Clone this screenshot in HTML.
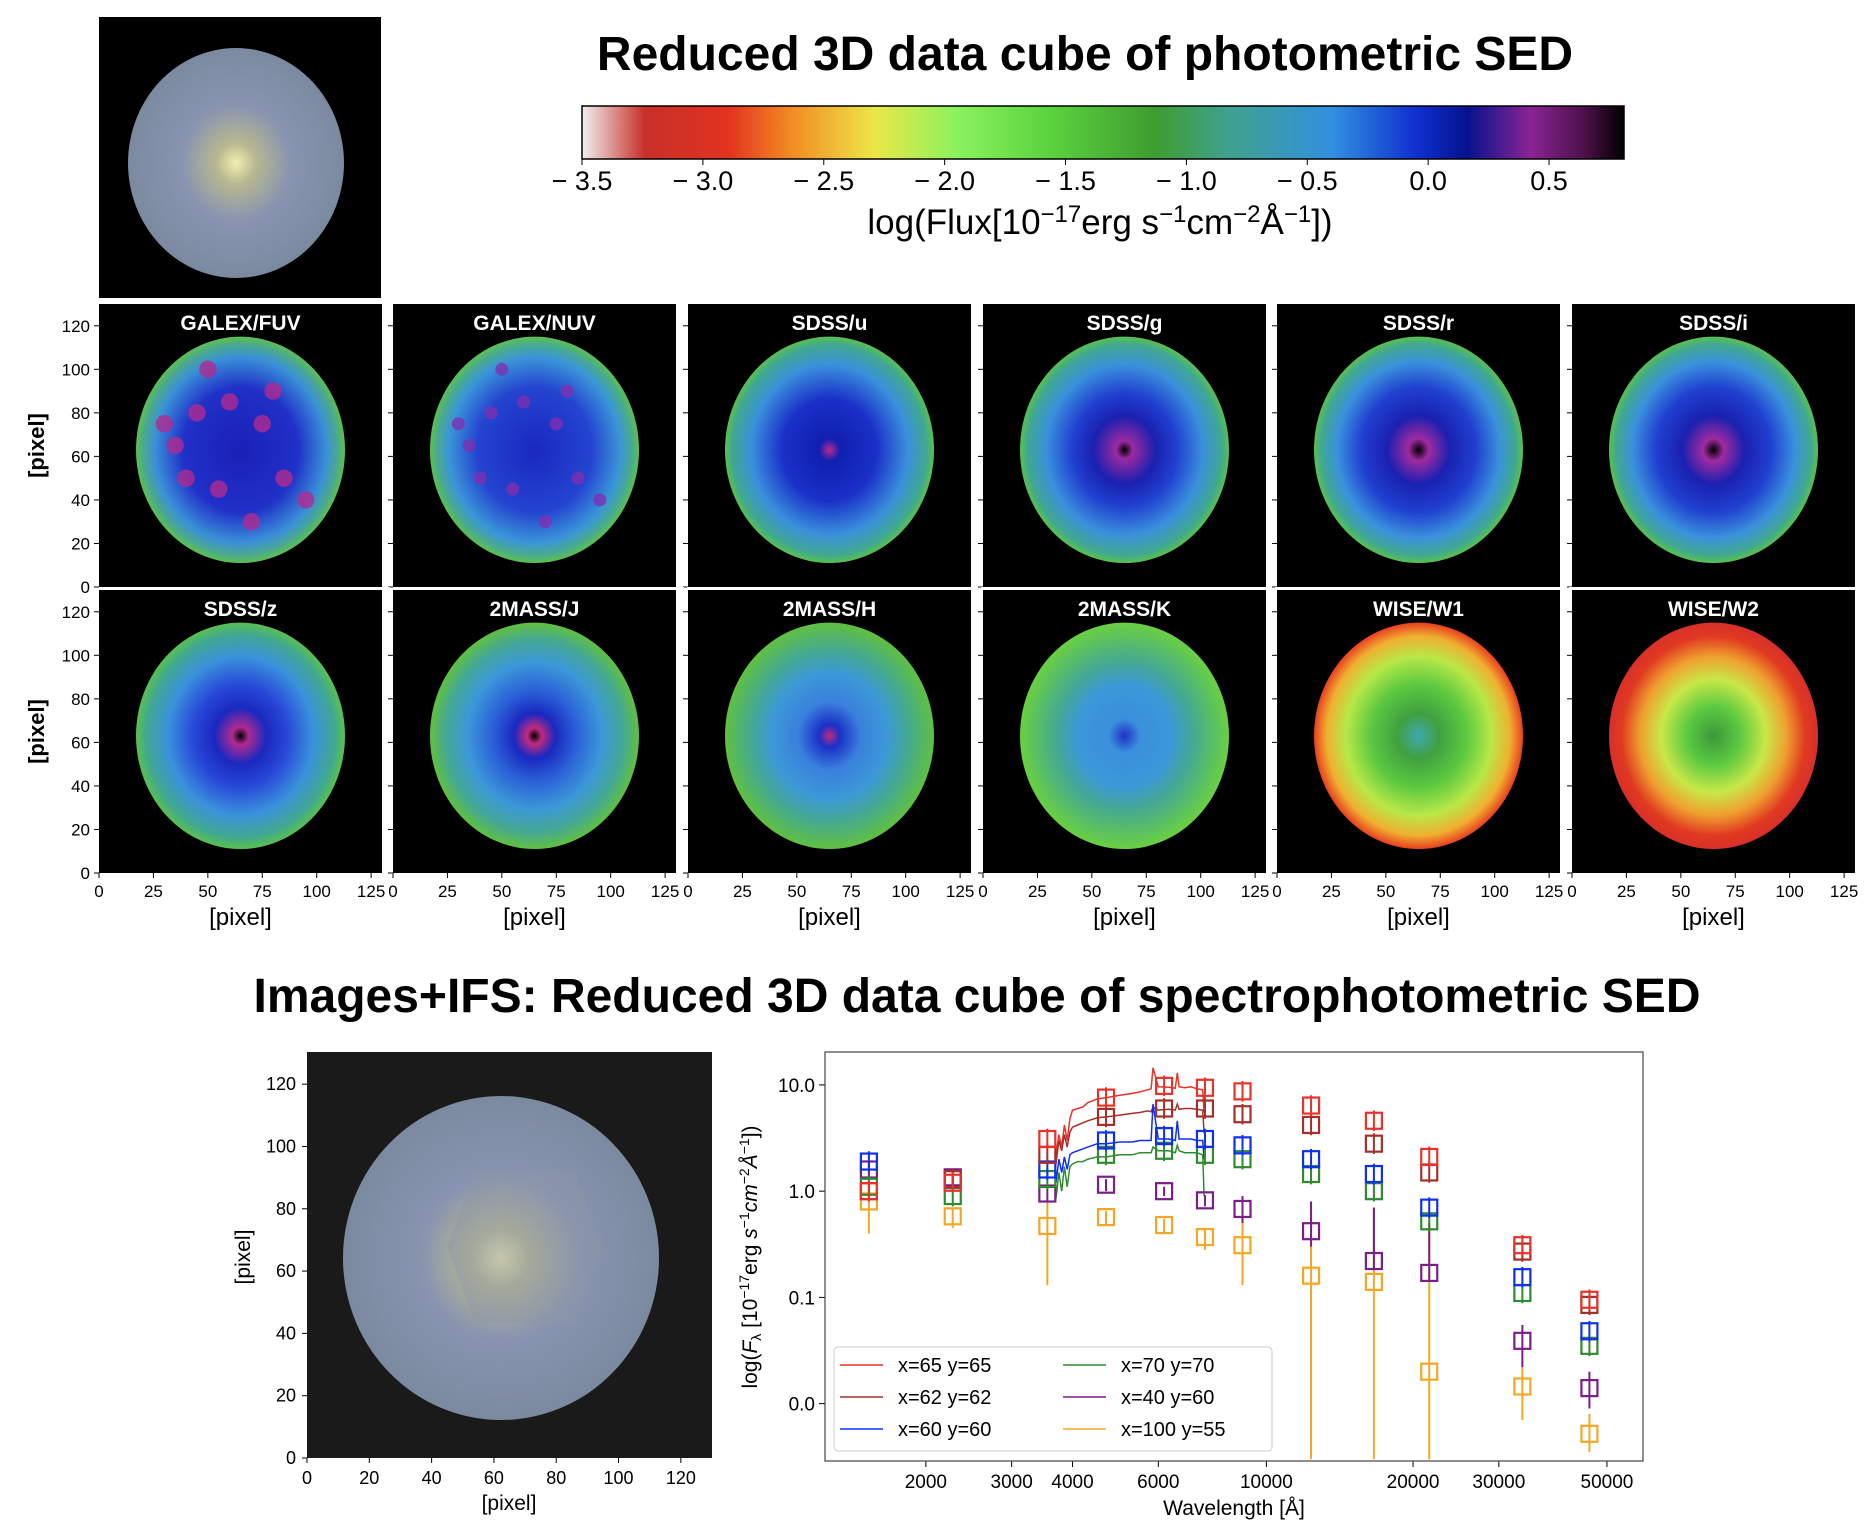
<!DOCTYPE html>
<html><head><meta charset="utf-8">
<style>
html,body{margin:0;padding:0;background:#fff;}
svg{display:block;font-family:"Liberation Sans",sans-serif;}
</style></head>
<body>
<svg id="fig" width="1876" height="1524" viewBox="0 0 1876 1524" xmlns="http://www.w3.org/2000/svg">
<defs>
<linearGradient id="cbar" x1="0" x2="1" y1="0" y2="0">
<stop offset="0" stop-color="#f0f0f0"/><stop offset="0.06" stop-color="#c8302a"/><stop offset="0.14" stop-color="#e2321f"/>
<stop offset="0.2" stop-color="#f28a22"/><stop offset="0.28" stop-color="#ece648"/><stop offset="0.36" stop-color="#8af25e"/>
<stop offset="0.45" stop-color="#5ad23e"/><stop offset="0.55" stop-color="#3f9c30"/><stop offset="0.62" stop-color="#3fa28e"/>
<stop offset="0.72" stop-color="#3290e0"/><stop offset="0.8" stop-color="#1030d0"/><stop offset="0.85" stop-color="#06128e"/>
<stop offset="0.91" stop-color="#8a2494"/><stop offset="0.96" stop-color="#50104e"/><stop offset="1" stop-color="#000"/>
</linearGradient>
<radialGradient id="rgbg"><stop offset="0" stop-color="#f2eeb0"/><stop offset="0.18" stop-color="#b8b890"/><stop offset="0.5" stop-color="#8894b0"/><stop offset="1" stop-color="#7c8aa0"/></radialGradient>
</defs>
<g id="root"></g>
</svg>
<script>
const NS='http://www.w3.org/2000/svg';
const root=document.getElementById('root');
function mk(tag,attrs,parent){const e=document.createElementNS(NS,tag);for(const k in attrs)e.setAttribute(k,attrs[k]);(parent||root).appendChild(e);return e;}
function tx(str,x,y,size,opts,parent){const o=opts||{};const e=mk('text',{x:x,y:y,'font-size':size,'text-anchor':o.anchor||'middle','font-weight':o.weight||'normal',fill:o.fill||'#000'},parent);if(o.rot)e.setAttribute('transform','rotate(-90 '+x+' '+y+')');e.textContent=str;return e;}

// ===== Top titles =====
let t=tx('Reduced 3D data cube of photometric SED',1085,70,48,{weight:'bold'});



let g=mk('g',{});


mk('rect',{x:99,y:17,width:282,height:281,fill:'#000'},g);
mk('ellipse',{cx:236,cy:163,rx:108,ry:115,fill:'url(#rgbg)'},g);

const cbTicks=[-3.5,-3.0,-2.5,-2.0,-1.5,-1.0,-0.5,0.0,0.5];
const cbMin=-3.5,cbMax=0.81,cbX0=582,cbX1=1624;
function cbx(v){return cbX0+(v-cbMin)/(cbMax-cbMin)*(cbX1-cbX0);}
g=mk('g',{});


mk('rect',{x:cbX0,y:106,width:cbX1-cbX0,height:53,fill:'url(#cbar)',stroke:'#000','stroke-width':1.5},g);
cbTicks.forEach(v=>{const x=cbx(v);mk('line',{x1:x,x2:x,y1:159,y2:165,stroke:'#000'},g);
 const s=(v<0?'\u2212 ':'')+Math.abs(v).toFixed(1);const l=tx(s,x,190,27,{},g);
 
 });
t=mk('text',{x:1100,y:234,'font-size':35,'text-anchor':'middle'});
t.innerHTML='log(Flux[10<tspan dy="-12" font-size="24">\u221217</tspan><tspan dy="12">erg s</tspan><tspan dy="-12" font-size="24">\u22121</tspan><tspan dy="12">cm</tspan><tspan dy="-12" font-size="24">\u22122</tspan><tspan dy="12">\u00c5</tspan><tspan dy="-12" font-size="24">\u22121</tspan><tspan dy="12">])</tspan>';



// ===== Band panels =====
const bands=['GALEX/FUV','GALEX/NUV','SDSS/u','SDSS/g','SDSS/r','SDSS/i','SDSS/z','2MASS/J','2MASS/H','2MASS/K','WISE/W1','WISE/W2'];
const bandStops=[
 [['#1a20b8',0],['#2030c8',0.55],['#3a90d8',0.82],['#4aa890',0.93],['#5cc050',1]],
 [['#1a28c0',0],['#2444d0',0.55],['#3a95d8',0.82],['#48aa90',0.93],['#5cc050',1]],
 [['#c02890',0],['#1020b0',0.1],['#1a30c8',0.45],['#3a90dc',0.75],['#40a890',0.93],['#5ac050',1]],
 [['#000',0],['#9a2aa0',0.08],['#1a20b0',0.3],['#2040d0',0.5],['#3a90dc',0.75],['#40a890',0.93],['#5ac050',1]],
 [['#000',0],['#a02aa0',0.1],['#1a20b0',0.3],['#2040d0',0.55],['#3a92dc',0.78],['#40a890',0.93],['#5ac050',1]],
 [['#000',0],['#a02aa0',0.1],['#1a20b0',0.3],['#2040d0',0.55],['#3a92dc',0.78],['#40a890',0.93],['#5ac050',1]],
 [['#000',0],['#b02a90',0.08],['#1a28c0',0.25],['#2848d8',0.45],['#3a92dc',0.7],['#40a890',0.9],['#5ac050',1]],
 [['#000',0],['#c02a80',0.07],['#1a28c0',0.2],['#2a60d8',0.4],['#3c98d8',0.65],['#44a894',0.85],['#60c040',1]],
 [['#c02a80',0],['#1a30c8',0.1],['#3a80dc',0.3],['#3c98d8',0.55],['#44a894',0.75],['#60c040',1]],
 [['#2030c8',0],['#3a90dc',0.15],['#3c98d8',0.45],['#44a894',0.65],['#6ad040',1]],
 [['#40a8b0',0],['#40a040',0.2],['#5ac840',0.45],['#b8e848',0.7],['#f0b030',0.88],['#e84020',1]],
 [['#3c9838',0],['#5ac840',0.25],['#c8e848',0.5],['#f0a030',0.7],['#e03a20',0.88],['#d8302a',1]]
];
// star-forming knots (pixel coords) for UV bands
const knotX=[35,45,55,75,85,40,60,95,50,70,80,30];
const knotY=[65,80,45,75,50,50,85,40,100,30,90,75];
const colX=[99,393,688,983,1277,1572], rowY=[304,590], PW=283, PH=283;
const pxTicks=[0,20,40,60,80,100,120], xTicks=[0,25,50,75,100,125];
const defs=document.querySelector('defs');
bands.forEach((name,i)=>{
 const r=Math.floor(i/6),c=i%6,x0=colX[c],y0=rowY[r],s=PW/130;
 const gid='bg'+i;const rg=mk('radialGradient',{id:gid},defs);
 bandStops[i].forEach(st=>mk('stop',{offset:st[1],'stop-color':st[0]},rg));
 const pg=mk('g',{});
 
 
 mk('rect',{x:x0,y:y0,width:PW,height:PH,fill:'#000'},pg);
 mk('ellipse',{cx:x0+65*s,cy:y0+PH-63*s,rx:48*s,ry:52*s,fill:'url(#'+gid+')'},pg);
 if(i<2){knotX.forEach((kx,k)=>{mk('circle',{cx:x0+kx*s,cy:y0+PH-knotY[k]*s,r:(i===0?4:3)*s,fill:i===0?'#b02a90':'#8030b0','fill-opacity':0.8},pg);});}
 const tt=tx(name,x0+PW/2,y0+26,21,{weight:'bold',fill:'#fff'},pg);
 
 
 pxTicks.forEach(v=>{const y=y0+PH-v*s;mk('line',{x1:x0-5,x2:x0,y1:y,y2:y,stroke:'#000'},pg);
   if(c===0){const l=tx(String(v),x0-9,y+6,17,{anchor:'end'},pg);
   
   }});
 if(r===1){xTicks.forEach(v=>{const x=x0+v*s;mk('line',{x1:x,x2:x,y1:y0+PH,y2:y0+PH+5,stroke:'#000'},pg);
   const l=tx(String(v),x,y0+PH+24,17,{},pg);
   
   });
   const xl=tx('[pixel]',x0+PW/2,y0+PH+52,24,{},pg);
   
   }
 if(c===0){const yl=tx('[pixel]',44,y0+PH/2,22,{rot:true,weight:'bold'},pg);
   
   }
});
mk('line',{x1:99,x2:1856,y1:588.5,y2:588.5,stroke:'#fff','stroke-width':3,'stroke-dasharray':'3 3'});

// ===== Bottom =====
t=tx('Images+IFS: Reduced 3D data cube of spectrophotometric SED',977,1012,48,{weight:'bold'});



g=mk('g',{});


mk('rect',{x:307,y:1052,width:405,height:406,fill:'#1a1a1a'},g);
mk('ellipse',{cx:501,cy:1258,rx:158,ry:162,fill:'url(#rgbg)'},g);
mk('polygon',{points:'475,1172 575,1172 601,1247 575,1323 475,1323 447,1247',fill:'#8e96a8','fill-opacity':0.45},g);
(function(){const s=405/130;
 [0,20,40,60,80,100,120].forEach(v=>{const y=1458-v*s,x=307+v*s;
  mk('line',{x1:302,x2:307,y1:y,y2:y,stroke:'#000'},g);
  mk('line',{x1:x,x2:x,y1:1458,y2:1463,stroke:'#000'},g);
  let l=tx(String(v),296,y+6,18,{anchor:'end'},g);
  
  
  l=tx(String(v),x,1484,18,{},g);
  
  });
 let l=tx('[pixel]',509,1510,21,{},g);
 
 
 l=tx('[pixel]',250,1257,21,{rot:true},g);
 
 })();

// ===== SED chart data =====
const bandWave=[1528,2271,3551,4686,6166,7480,8932,12350,16620,21590,33526,46028];
const seriesNames=['x=65 y=65','x=62 y=62','x=60 y=60','x=70 y=70','x=40 y=60','x=100 y=55'];
const seriesColors=['#e8322a','#a5302a','#1030f0','#2e8b2e','#7a1f8a','#f5a623'];
const fluxRed=[1.0,1.2,3.1,7.6,9.8,9.4,8.7,6.4,4.6,2.1,0.31,0.095];
const fluxBrown=[1.0,1.3,2.2,5.0,6.0,6.0,5.3,4.2,2.8,1.5,0.27,0.085];
const fluxBlue=[1.9,1.3,1.6,3.0,3.3,3.1,2.7,2.0,1.45,0.7,0.155,0.048];
const fluxGreen=[1.1,0.9,1.3,2.2,2.4,2.2,2.0,1.45,1.0,0.52,0.11,0.035];
const fluxPurple=[1.6,1.35,0.95,1.15,1.0,0.82,0.68,0.42,0.22,0.17,0.039,0.014];
const fluxOrange=[0.8,0.58,0.47,0.57,0.48,0.37,0.31,0.16,0.14,0.02,0.0145,0.0052];
const errLoOrange=[0.4,0.45,0.13,0.48,0.4,0.28,0.13,0.003,0.003,0.003,0.007,0.0035];
const errHiOrange=[1.0,0.7,0.8,0.65,0.55,0.45,0.5,0.8,0.7,0.5,0.022,0.008];
const errLoPurple=[1.3,1.1,0.8,1.0,0.9,0.72,0.5,0.3,0.18,0.14,0.022,0.009];
const errHiPurple=[1.9,1.6,1.1,1.3,1.1,0.92,0.9,0.8,0.7,0.5,0.055,0.02];
const specWave=[3700,3750,3800,3850,3900,3950,4000,4100,4200,4300,4500,4700,5000,5300,5500,5700,5800,5850,6000,6300,6500,6563,6620,6800,7000,7200,7400,7450];
const specRed=[2.2,3.4,2.6,4.2,3.0,4.8,5.8,6.0,6.2,6.8,7.4,7.6,8.0,8.3,8.6,9.0,9.2,14.5,9.6,9.5,9.3,13.0,9.6,9.4,9.6,9.2,9.0,5.5];
const specBrown=[1.8,3.0,2.4,3.4,2.6,3.6,4.0,4.2,4.4,4.6,4.9,5.0,5.2,5.4,5.5,5.7,5.6,6.2,5.8,5.9,5.8,6.6,5.9,6.0,6.0,5.9,5.8,3.5];
const specBlue=[1.2,2.0,1.5,2.1,1.6,2.2,2.3,2.4,2.5,2.6,2.8,2.8,2.9,2.9,3.0,3.0,3.0,6.6,3.1,3.1,3.0,4.6,3.1,3.1,3.1,3.0,3.0,2.0];
const specGreen=[0.85,1.5,1.0,1.7,1.1,1.7,1.8,1.9,1.9,2.0,2.1,2.1,2.2,2.2,2.3,2.3,2.3,2.6,2.4,2.4,2.3,2.7,2.4,2.3,2.3,2.3,2.2,0.9];
const xTickVals=[2000,3000,4000,6000,10000,20000,30000,50000];
const yTickVals=[10,1,0.1,0.01];
const yTickLabels=['10.0','1.0','0.1','0.0'];

const PL=825,PR=1643,PT=1052,PB=1461;
const xLogMin=3.094,xLogMax=4.773,yLogMin=-2.54,yLogMax=1.31;
function X(w){return PL+(Math.log10(w)-xLogMin)/(xLogMax-xLogMin)*(PR-PL);}
function Y(f){const l=Math.log10(Math.max(f,1e-4));return PB-(l-yLogMin)/(yLogMax-yLogMin)*(PB-PT);}
function clampY(y){return Math.min(PB,Math.max(PT,y));}

const cg=mk('g',{});


mk('rect',{x:PL,y:PT,width:PR-PL,height:PB-PT,fill:'#fff'},cg);
xTickVals.forEach(v=>{const x=X(v);mk('line',{x1:x,x2:x,y1:PB,y2:PB+6,stroke:'#000'},cg);
 const l=tx(String(v),x,PB+27,19,{},cg);
 
 });
yTickVals.forEach((v,i)=>{const y=Y(v);mk('line',{x1:PL-6,x2:PL,y1:y,y2:y,stroke:'#000'},cg);
 const l=tx(yTickLabels[i],PL-10,y+7,19,{anchor:'end'},cg);
 
 });
t=tx('Wavelength [\u00c5]',1234,1515,21,{},cg);


t=mk('text',{x:757,y:1257,'font-size':21,'text-anchor':'middle',transform:'rotate(-90 757 1257)'},cg);
t.innerHTML='log(<tspan font-style="italic">F</tspan><tspan font-size="14" dy="4">\u03bb</tspan><tspan dy="-4"> [10</tspan><tspan font-size="14" dy="-8">\u221217</tspan><tspan dy="8">erg </tspan><tspan font-style="italic">s</tspan><tspan font-size="14" dy="-8">\u22121</tspan><tspan dy="8" font-style="italic">cm</tspan><tspan font-size="14" dy="-8">\u22122</tspan><tspan dy="8" font-style="italic">\u00c5</tspan><tspan font-size="14" dy="-8">\u22121</tspan><tspan dy="8">])</tspan>';



const specs=[specRed,specBrown,specBlue,specGreen];
specs.forEach((arr,si)=>{
 const d=arr.map((v,i)=>(i?'L':'M')+X(specWave[i]).toFixed(1)+' '+Y(v).toFixed(1)).join(' ');
 const p=mk('path',{d:d,fill:'none',stroke:seriesColors[si],'stroke-width':1.5},cg);
 
 
});
const fluxes=[fluxRed,fluxBrown,fluxBlue,fluxGreen,fluxPurple,fluxOrange];
const order=[5,4,3,2,1,0];
order.forEach(si=>{
 const arr=fluxes[si];
 arr.forEach((v,i)=>{
  const x=X(bandWave[i]),y=Y(v);
  let lo,hi;
  if(si===5){lo=errLoOrange[i];hi=errHiOrange[i];}
  else if(si===4){lo=errLoPurple[i];hi=errHiPurple[i];}
  else{lo=v*0.8;hi=v*1.25;}
  const e=mk('line',{x1:x,x2:x,y1:clampY(Y(lo)),y2:clampY(Y(hi)),stroke:seriesColors[si],'stroke-width':2},cg);
  
  
  const m=mk('rect',{x:x-8,y:y-8,width:16,height:16,fill:'none',stroke:seriesColors[si],'stroke-width':2.2},cg);
  
  
 });
});
mk('rect',{x:PL,y:PT,width:PR-PL,height:PB-PT,fill:'none',stroke:'#444','stroke-width':1.2},cg);

const lg=mk('g',{},cg);


mk('rect',{x:834,y:1347,width:438,height:104,rx:4,fill:'#fff','fill-opacity':0.85,stroke:'#ccc'},lg);
seriesNames.forEach((n,i)=>{
 const col=Math.floor(i/3),row=i%3;const lx=col?1063:840,ty=1365+row*32;
 const eg=mk('g',{},lg);
 
 
 mk('line',{x1:lx,x2:lx+43,y1:ty,y2:ty,stroke:seriesColors[i],'stroke-width':1.5},eg);
 tx(n,lx+58,ty+7,20,{anchor:'start'},eg);
});
</script>
</body></html>
